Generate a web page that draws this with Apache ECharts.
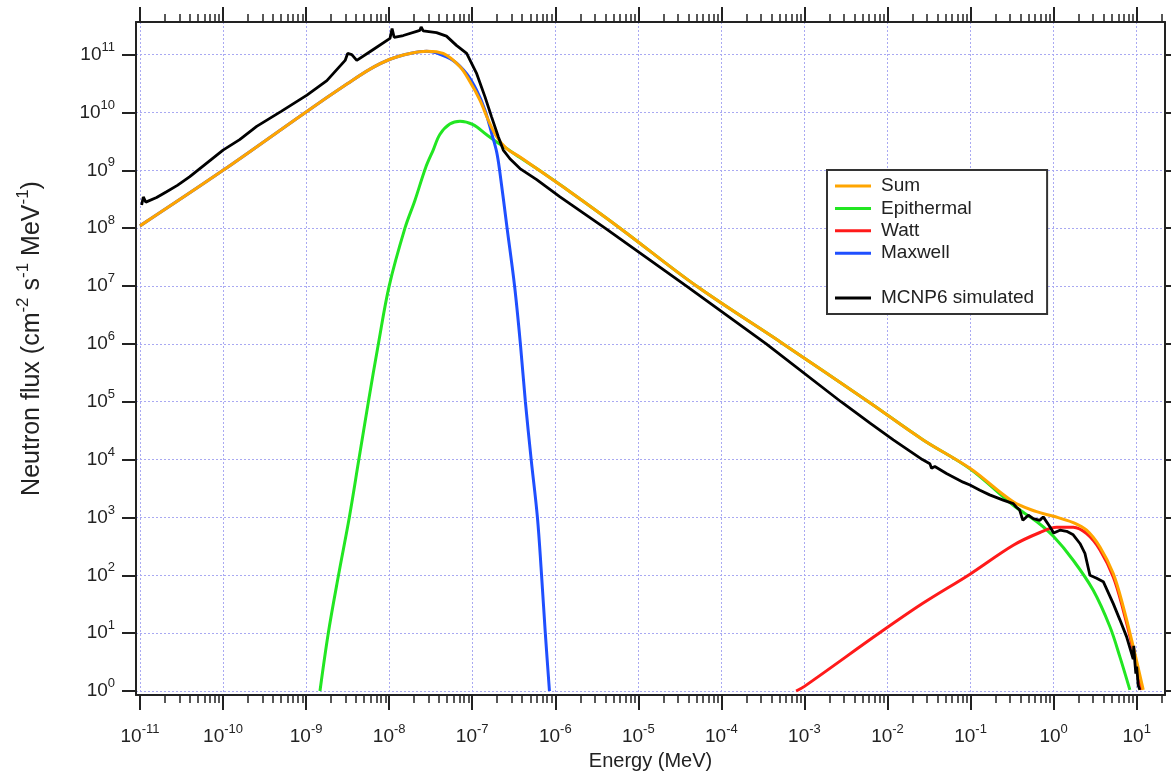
<!DOCTYPE html>
<html>
<head>
<meta charset="utf-8">
<script src="https://cdn.jsdelivr.net/npm/echarts@6/dist/echarts.min.js"></script>
<style>
html,body{margin:0;padding:0;background:#fff;}
#chart{width:1171px;height:772px;}
</style>
</head>
<body>
<div id="chart"></div>
<script>
// ---- Data: log10(Energy/MeV) and log10(flux) ----
const sumLogE = [-11, -10, -9, -8.5, -8.23, -7.99, -7.75, -7.55, -7.35, -7.147, -7.027, -6.906, -6.807, -6.706, -6.585, -6.425, -6.224, -5.823, -5.22, -4.30, -3.255, -2.23, -1.57, -1.007, -0.486, -0.205, 0, 0.236, 0.397, 0.558, 0.718, 0.838, 0.958, 1.079];
const sumLogF = [8.04, 9.0, 10.01, 10.50, 10.75, 10.92, 11.02, 11.06, 11.02, 10.79, 10.53, 10.21, 9.87, 9.58, 9.376, 9.23, 9.03, 8.63, 8.0, 7.0, 6.0, 5.0, 4.34, 3.85, 3.27, 3.10, 3.02, 2.91, 2.78, 2.49, 2.03, 1.46, 0.77, 0.02];

const epiLogE = [-8.833, -8.733, -8.61, -8.48, -8.365, -8.25, -8.13, -8.0, -7.81, -7.69, -7.56, -7.47, -7.39, -7.27, -7.147, -6.99, -6.83, -6.706, -6.546, -6.425, -6.224, -5.823, -5.22, -4.30, -3.255, -2.23, -1.57, -1.007, -0.486, -0.205, 0, 0.236, 0.477, 0.678, 0.798, 0.918];
const epiLogF = [0, 1, 2, 3, 4, 5, 6, 7, 8, 8.48, 9.05, 9.35, 9.62, 9.80, 9.85, 9.79, 9.62, 9.49, 9.34, 9.22, 9.03, 8.63, 8.0, 7.0, 6.0, 5.0, 4.34, 3.84, 3.21, 2.93, 2.67, 2.26, 1.74, 1.11, 0.59, 0.02];

const wattLogE = [-3.10, -3.0, -2.09, -1.57, -1.007, -0.486, -0.165, 0.036, 0.236, 0.397, 0.558, 0.718, 0.838, 0.958, 1.059];
const wattLogF = [0.0, 0.08, 1.01, 1.52, 2.02, 2.52, 2.74, 2.83, 2.83, 2.72, 2.44, 1.97, 1.40, 0.71, 0.02];

const maxLogE = [-11, -10, -9, -8.5, -8.23, -7.99, -7.75, -7.55, -7.43, -7.23, -7.067, -6.946, -6.846, -6.766, -6.706, -6.67, -6.58, -6.49, -6.42, -6.36, -6.29, -6.215, -6.165, -6.12, -6.07];
const maxLogF = [8.04, 9.0, 10.01, 10.50, 10.75, 10.92, 11.02, 11.06, 11.03, 10.90, 10.67, 10.38, 10.04, 9.64, 9.32, 9.0, 8.0, 7.0, 6.0, 5.0, 4.0, 3.0, 2.0, 1.0, 0.0];

const mcnpLogE = [-10.98, -10.96, -10.93, -10.80, -10.68, -10.55, -10.40, -10.0, -9.80, -9.595, -9.30, -8.99, -8.75, -8.53, -8.50, -8.45, -8.39, -8.20, -7.99, -7.965, -7.94, -7.83, -7.63, -7.615, -7.59, -7.43, -7.31, -7.19, -7.067, -6.946, -6.846, -6.766, -6.686, -6.626, -6.546, -6.425, -6.224, -5.943, -5.40, -4.42, -3.46, -2.56, -2.21, -1.93, -1.58, -1.49, -1.47, -1.43, -1.29, -1.09, -1.007, -0.887, -0.77, -0.607, -0.486, -0.45, -0.41, -0.37, -0.305, -0.245, -0.165, -0.125, -0.045, 0.0, 0.076, 0.157, 0.236, 0.317, 0.377, 0.437, 0.518, 0.598, 0.718, 0.798, 0.878, 0.938, 0.958, 0.965, 0.978, 0.99, 1.0, 1.018, 1.038];
const mcnpLogF = [8.40, 8.54, 8.45, 8.53, 8.63, 8.74, 8.89, 9.35, 9.53, 9.76, 10.02, 10.30, 10.55, 10.90, 11.02, 11.0, 10.90, 11.08, 11.28, 11.45, 11.30, 11.33, 11.42, 11.48, 11.41, 11.38, 11.32, 11.16, 11.02, 10.67, 10.27, 9.92, 9.58, 9.35, 9.20, 9.03, 8.84, 8.54, 8.0, 7.0, 6.0, 5.0, 4.63, 4.34, 4.0, 3.93, 3.85, 3.88, 3.76, 3.61, 3.56, 3.47, 3.39, 3.30, 3.24, 3.18, 3.13, 2.95, 3.04, 2.98, 2.95, 3.01, 2.84, 2.73, 2.78, 2.76, 2.70, 2.55, 2.38, 2.0, 1.95, 1.89, 1.51, 1.23, 0.94, 0.65, 0.55, 0.78, 0.50, 0.30, 0.42, 0.10, 0.02];

// ---- Axis ranges (log10 units) and tick labels ----
const X_MIN = -11.048, X_MAX = 1.341;
const Y_MIN = -0.069, Y_MAX = 11.564;
const xMajor = [-11, -10, -9, -8, -7, -6, -5, -4, -3, -2, -1, 0, 1];
const yMajor = [0, 1, 2, 3, 4, 5, 6, 7, 8, 9, 10, 11];
const minorFactors = [2, 3, 4, 5, 6, 7, 8, 9];
const xMinor = [];
xMajor.forEach(n => minorFactors.forEach(k => {
  const v = n + Math.log10(k);
  if (v < X_MAX) xMinor.push(v);
}));

const FONT = "'Liberation Sans', Arial, Helvetica, sans-serif";
const TXT = '#222';
const FRAME = { color: '#222', width: 2 };
const GRIDLINE = { color: '#a9a9f2', width: 1, type: [2, 2] };

function pairs(le, lf) { return le.map((e, i) => [Math.pow(10, e), Math.pow(10, lf[i])]); }

const powRich = {
  b: { fontSize: 19, lineHeight: 28, fontFamily: FONT, color: TXT },
  s: { fontSize: 13, lineHeight: 13, fontFamily: FONT, color: TXT, verticalAlign: 'top' }
};
const powFmt = v => '{b|10}{s|' + v + '}';

function tickAxis(extra) {
  return Object.assign({
    type: 'value',
    axisLine: { show: false, onZero: false },
    axisTick: { show: false },
    axisLabel: { show: false },
    splitLine: { show: false }
  }, extra);
}

const chart = echarts.init(document.getElementById('chart'), null, { renderer: 'canvas' });
const line = (name, le, lf, color, width, smooth) => ({
  name, type: 'line', xAxisIndex: 0, yAxisIndex: 0,
  data: pairs(le, lf), showSymbol: false, symbol: 'none',
  smooth: smooth, color: color,
  itemStyle: { color: color },
  lineStyle: { color: color, width: width },
  emphasis: { disabled: true }, silent: true
});

const option = {
  animation: false,
  backgroundColor: '#ffffff',
  grid: { left: 136, right: 6, top: 22, bottom: 77, containLabel: false, outerBoundsMode: 'none' },
  legend: {
    orient: 'vertical', left: 827, top: 170,
    data: ['Sum', 'Epithermal', 'Watt', 'Maxwell', ' ', 'MCNP6 simulated'],
    icon: 'rect', itemWidth: 36, itemHeight: 3, itemGap: 2.4,
    padding: [6, 13, 6, 8],
    borderColor: '#333', borderWidth: 2, backgroundColor: '#fff',
    selectedMode: false,
    textStyle: { fontSize: 19, lineHeight: 20, fontFamily: FONT, color: TXT, padding: [0, 0, 0, 5] }
  },
  xAxis: [
    { type: 'log', position: 'bottom', min: Math.pow(10, X_MIN), max: Math.pow(10, X_MAX), show: false },
    tickAxis({
      position: 'bottom', min: X_MIN, max: X_MAX,
      axisLine: { show: true, onZero: false, lineStyle: FRAME },
      axisTick: { show: true, inside: false, length: 15, customValues: xMajor, lineStyle: FRAME },
      axisLabel: { show: true, customValues: xMajor, margin: 28, formatter: powFmt, rich: powRich },
      splitLine: { show: true, lineStyle: GRIDLINE },
      name: 'Energy (MeV)', nameLocation: 'middle', nameGap: 52,
      nameTextStyle: { fontSize: 20, fontFamily: FONT, color: TXT }
    }),
    tickAxis({
      position: 'bottom', min: X_MIN, max: X_MAX,
      axisTick: { show: true, inside: false, length: 8, customValues: xMinor, lineStyle: { color: '#222', width: 1.5 } }
    }),
    tickAxis({
      position: 'top', min: X_MIN, max: X_MAX,
      axisLine: { show: true, onZero: false, lineStyle: FRAME },
      axisTick: { show: true, inside: false, length: 15, customValues: xMajor, lineStyle: FRAME }
    }),
    tickAxis({
      position: 'top', min: X_MIN, max: X_MAX,
      axisTick: { show: true, inside: false, length: 8, customValues: xMinor, lineStyle: { color: '#222', width: 1.5 } }
    })
  ],
  yAxis: [
    { type: 'log', position: 'left', min: Math.pow(10, Y_MIN), max: Math.pow(10, Y_MAX), show: false },
    tickAxis({
      position: 'left', min: Y_MIN, max: Y_MAX,
      axisLine: { show: true, onZero: false, lineStyle: FRAME },
      axisTick: { show: true, inside: false, length: 14, customValues: yMajor, lineStyle: FRAME },
      axisLabel: { show: true, customValues: yMajor, margin: 21, formatter: powFmt, rich: powRich },
      splitLine: { show: true, lineStyle: GRIDLINE },
      name: '{t|Neutron flux (cm}{s|-2}{t| s}{s|-1}{t| MeV}{s|-1}{t|)}',
      nameLocation: 'middle', nameRotate: 90, nameGap: 87,
      nameTextStyle: {
        fontFamily: FONT, color: TXT, padding: [0, 0, 0, 40],
        rich: {
          t: { fontSize: 25, lineHeight: 34, fontFamily: FONT, color: TXT },
          s: { fontSize: 17, lineHeight: 17, fontFamily: FONT, color: TXT, verticalAlign: 'top' }
        }
      }
    }),
    tickAxis({
      position: 'right', min: Y_MIN, max: Y_MAX,
      axisLine: { show: true, onZero: false, lineStyle: FRAME },
      axisTick: { show: true, inside: false, length: 10, customValues: yMajor, lineStyle: FRAME }
    })
  ],
  series: [
    line('Epithermal', epiLogE, epiLogF, '#22e622', 3, 0.35),
    line('Watt', wattLogE, wattLogF, '#ff1a1a', 3, 0.35),
    line('Maxwell', maxLogE, maxLogF, '#1f4fff', 3, 0.35),
    line('Sum', sumLogE, sumLogF, '#ffa500', 3, 0.35),
    { name: ' ', type: 'line', data: [], color: 'rgba(0,0,0,0)', itemStyle: { color: 'rgba(0,0,0,0)' }, lineStyle: { color: 'rgba(0,0,0,0)' } },
    line('MCNP6 simulated', mcnpLogE, mcnpLogF, '#000000', 2.8, false)
  ]
};
chart.setOption(option);
</script>
</body>
</html>
